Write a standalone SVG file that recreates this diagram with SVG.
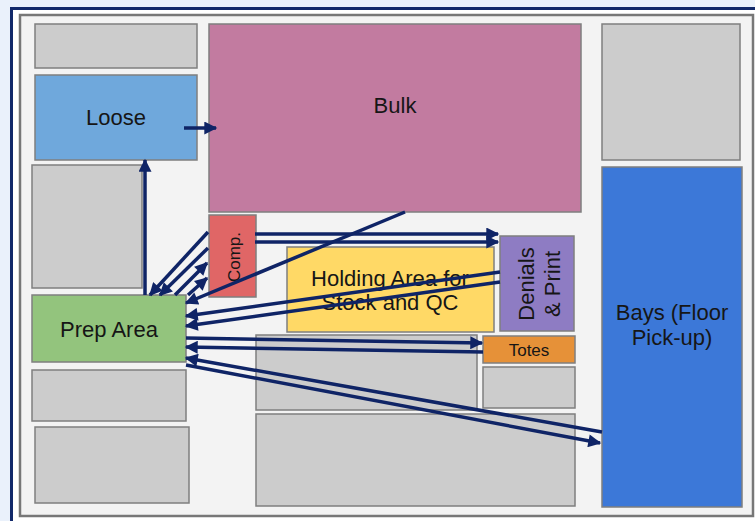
<svg xmlns="http://www.w3.org/2000/svg" width="755" height="521" viewBox="0 0 755 521">
<style>
.blk{stroke:#7f7f7f;stroke-width:1.5}
.gray{fill:#cccccc}
.lbl{font-family:"Liberation Sans",Arial,sans-serif;font-size:22px;fill:#161616;text-anchor:middle}
.con line{stroke:#0f2466;stroke-width:3.5;fill:none}
</style>
<defs>
<marker id="ah" viewBox="0 0 10 10" refX="9" refY="5" markerWidth="14" markerHeight="13" markerUnits="userSpaceOnUse" orient="auto">
<path d="M0,0 L10,5 L0,10 z" fill="#0f2466"/>
</marker>
</defs>
<rect x="0" y="0" width="755" height="521" fill="#eaf1fb"/>
<rect x="11.5" y="8.5" width="760" height="530" fill="#ffffff" stroke="#12296a" stroke-width="3"/>
<rect x="20" y="15" width="733" height="501" fill="#f3f3f3" stroke="#777777" stroke-width="2.5"/>

<g id="gray-top-left"><rect class="blk gray" x="35" y="24" width="162" height="44"/></g>
<g id="loose"><rect class="blk" x="35" y="75" width="162" height="85" fill="#6fa8dc"/><text class="lbl" x="116" y="125">Loose</text></g>
<g id="bulk"><rect class="blk" x="209" y="24" width="372" height="188" fill="#c27ba0"/><text class="lbl" x="395" y="113">Bulk</text></g>
<g id="gray-top-right"><rect class="blk gray" x="602" y="24" width="138" height="136"/></g>
<g id="bays"><rect class="blk" x="602" y="167" width="140" height="340" fill="#3c78d8"/><text class="lbl" x="672" y="320">Bays (Floor</text><text class="lbl" x="672" y="345">Pick-up)</text></g>
<g id="gray-left-mid"><rect class="blk gray" x="32" y="165" width="110" height="123"/></g>
<g id="comp"><rect class="blk" x="209" y="215" width="47" height="82" fill="#e06666"/><text class="lbl" transform="translate(240,257) rotate(-90)" style="font-size:17px">Comp.</text></g>
<g id="holding"><rect class="blk" x="287" y="247" width="207" height="85" fill="#ffd966"/><text class="lbl" x="390" y="286">Holding Area for</text><text class="lbl" x="390" y="310">Stock and QC</text></g>
<g id="denials"><rect class="blk" x="500" y="236" width="74" height="95" fill="#8e7cc3"/><text class="lbl" transform="translate(534,284) rotate(-90)">Denials</text><text class="lbl" transform="translate(560,284) rotate(-90)">&amp; Print</text></g>
<g id="totes"><rect class="blk" x="483" y="336" width="92" height="27" fill="#e69138"/><text class="lbl" x="529" y="356" style="font-size:17px">Totes</text></g>
<g id="gray-below-totes"><rect class="blk gray" x="483" y="367" width="92" height="41"/></g>
<g id="prep"><rect class="blk" x="32" y="295" width="154" height="67" fill="#93c47d"/><text class="lbl" x="109" y="337">Prep Area</text></g>
<g id="gray-below-prep"><rect class="blk gray" x="32" y="370" width="154" height="51"/></g>
<g id="gray-bottom-left"><rect class="blk gray" x="35" y="427" width="154" height="76"/></g>
<g id="gray-center"><rect class="blk gray" x="256" y="335" width="221" height="75"/></g>
<g id="gray-bottom-center"><rect class="blk gray" x="256" y="414" width="319" height="92"/></g>

<g id="connectors" class="con">
<line x1="184" y1="128" x2="216" y2="128" marker-end="url(#ah)"/>
<line x1="145" y1="295" x2="145" y2="160" marker-end="url(#ah)"/>
<line x1="208" y1="232" x2="150" y2="295" marker-end="url(#ah)"/>
<line x1="208" y1="248" x2="160" y2="295" marker-end="url(#ah)"/>
<line x1="175" y1="295" x2="207" y2="263" marker-end="url(#ah)"/>
<line x1="188" y1="295" x2="207" y2="278" marker-end="url(#ah)"/>
<line x1="405" y1="212" x2="186" y2="303" marker-end="url(#ah)"/>
<line x1="255" y1="234" x2="498" y2="234" marker-end="url(#ah)"/>
<line x1="255" y1="242" x2="498" y2="242" marker-end="url(#ah)"/>
<line x1="500" y1="272" x2="186" y2="316" marker-end="url(#ah)"/>
<line x1="500" y1="282" x2="186" y2="326" marker-end="url(#ah)"/>
<line x1="186" y1="338" x2="482" y2="343" marker-end="url(#ah)"/>
<line x1="483" y1="352" x2="186" y2="347" marker-end="url(#ah)"/>
<line x1="602" y1="432" x2="186" y2="358" marker-end="url(#ah)"/>
<line x1="186" y1="365" x2="600" y2="443" marker-end="url(#ah)"/>
</g>
</svg>
